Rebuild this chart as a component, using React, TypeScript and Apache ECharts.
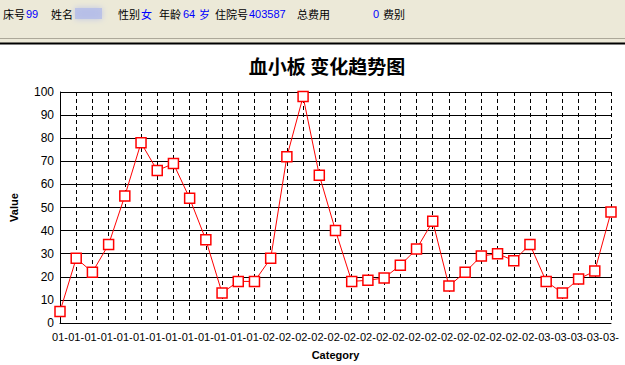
import React, { useEffect, useRef } from "react";
import * as echarts from "echarts";

const categories = [
  "01-", "01-", "01-", "01-", "01-", "01-", "01-", "01-", "01-", "01-", "01-", "01-", "01-",
  "02-", "02-", "02-", "02-", "02-", "02-", "02-", "02-", "02-", "02-", "02-", "02-", "02-", "02-", "02-", "02-", "02-",
  "03-", "03-", "03-", "03-", "03-",
];
const values = [
  5, 28, 22, 34, 55, 78, 66, 69, 54, 36, 13, 18, 18, 28, 72, 98, 64, 40, 18, 18.5,
  19.5, 25, 32, 44, 16, 22, 29, 30, 27, 34, 18, 13, 19, 22.5, 48,
];
const chartTitle = "血小板 变化趋势图";
const headerLabels = [
  { t: "床号", x: 3, c: "#000" },
  { t: "99", x: 26, c: "#0000ff", num: true },
  { t: "姓名", x: 51, c: "#000" },
  { t: "性别", x: 118, c: "#000" },
  { t: "女", x: 141, c: "#0000ff" },
  { t: "年龄", x: 159, c: "#000" },
  { t: "64", x: 183, c: "#0000ff", num: true },
  { t: "岁", x: 199, c: "#0000ff" },
  { t: "住院号", x: 215, c: "#000" },
  { t: "403587", x: 249, c: "#0000ff", num: true },
  { t: "总费用", x: 297, c: "#000" },
  { t: "0", x: 373, c: "#0000ff", num: true },
  { t: "费别", x: 383, c: "#000" },
];

export default function App() {
  const ref = useRef<HTMLDivElement>(null);
  useEffect(() => {
    document.body.style.margin = "0";
    const chart = echarts.init(ref.current!, null, { renderer: "svg" });
    const headerTexts = headerLabels.map((h) => ({
      type: "text",
      x: h.x,
      y: 14,
      style: {
        text: h.t,
        fill: h.c,
        font: h.num
          ? "11px 'Liberation Sans', Arial, sans-serif"
          : "11px 'Noto Sans CJK SC', sans-serif",
        textVerticalAlign: "middle",
      },
    }));
    chart.setOption({
      animation: false,
      backgroundColor: "#ffffff",
      title: {
        text: chartTitle,
        left: 322,
        textAlign: "center",
        top: 51,
        textStyle: {
          fontFamily: "'Noto Sans CJK SC', sans-serif",
          fontWeight: "bold",
          fontSize: 19,
          color: "#000",
        },
      },
      graphic: [
        { type: "rect", shape: { x: 0, y: 0, width: 625, height: 43 }, style: { fill: "#ECE9D8" } },
        { type: "line", shape: { x1: 0, y1: 38.5, x2: 625, y2: 38.5 }, style: { stroke: "#ACA899", lineWidth: 1 } },
        { type: "line", shape: { x1: 0, y1: 43.5, x2: 625, y2: 43.5 }, style: { stroke: "#000", lineWidth: 2 } },
        {
          type: "rect",
          shape: { x: 75, y: 8, width: 27, height: 11 },
          style: { fill: "#b4bde8", shadowBlur: 6, shadowColor: "#b4bde8", opacity: 0.8 },
        },
        ...headerTexts,
      ],
      grid: { left: 58, right: 14, top: 92, bottom: 41, containLabel: false },
      xAxis: {
        type: "category",
        data: categories,
        boundaryGap: false,
        name: "Category",
        nameLocation: "middle",
        nameGap: 26,
        nameTextStyle: {
          fontFamily: "'Liberation Sans Narrow', 'Liberation Sans', sans-serif",
          fontWeight: "bold",
          fontSize: 11,
          color: "#000",
        },
        axisLine: { lineStyle: { color: "#000", width: 1 } },
        axisTick: { show: false },
        axisLabel: {
          interval: 0,
          margin: 8,
          color: "#000",
          fontFamily: "'Liberation Sans Narrow', 'Liberation Sans', sans-serif",
          fontSize: 11,
        },
        splitLine: { show: true, lineStyle: { color: "#000", type: [4, 3], width: 1 } },
      },
      yAxis: {
        type: "value",
        min: 0,
        max: 100,
        interval: 10,
        name: "Value",
        nameLocation: "middle",
        nameRotate: 90,
        nameGap: 41,
        nameTextStyle: {
          fontFamily: "'Liberation Sans Narrow', 'Liberation Sans', sans-serif",
          fontWeight: "bold",
          fontSize: 11,
          color: "#000",
        },
        axisLine: { show: true, lineStyle: { color: "#000", width: 1 } },
        axisTick: { show: false },
        axisLabel: {
          margin: 6,
          color: "#000",
          fontFamily: "'Liberation Sans', Arial, sans-serif",
          fontSize: 12,
        },
        splitLine: { show: true, lineStyle: { color: "#000", type: "solid", width: 1 } },
      },
      series: [
        {
          type: "line",
          data: values,
          symbol: "rect",
          symbolSize: 10,
          showAllSymbol: true,
          lineStyle: { color: "#ff0000", width: 1 },
          itemStyle: { color: "#ffffff", borderColor: "#ff0000", borderWidth: 1.5 },
          z: 5,
        },
      ],
    });
    return () => chart.dispose();
  }, []);
  return <div ref={ref} style={{ width: 625, height: 365 }} />;
}
